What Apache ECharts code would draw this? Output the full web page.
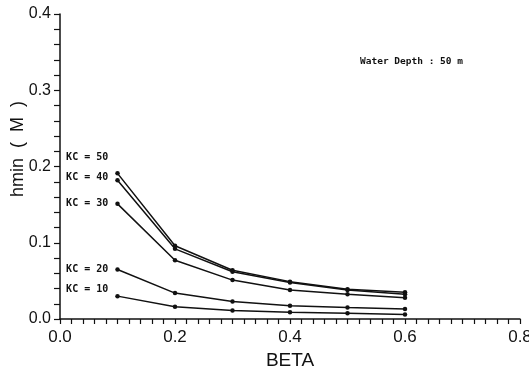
<!DOCTYPE html>
<html>
<head>
<meta charset="utf-8">
<script src="https://cdn.jsdelivr.net/npm/echarts@6/dist/echarts.min.js"></script>
<style>
  html, body { margin: 0; padding: 0; background: #fff; }
  #chart { width: 529px; height: 367px; }
</style>
</head>
<body>
<div id="chart"></div>
<script>
// BETA values where hmin was computed
const beta = [0.1, 0.2, 0.3, 0.4, 0.5, 0.6];

// hmin (m) for each KC number, water depth 50 m
const kc50 = [0.191, 0.096, 0.064, 0.049, 0.039, 0.035];
const kc40 = [0.182, 0.092, 0.062, 0.048, 0.038, 0.0325];
const kc30 = [0.151, 0.077, 0.051, 0.038, 0.0325, 0.028];
const kc20 = [0.065, 0.034, 0.023, 0.0175, 0.015, 0.013];
const kc10 = [0.030, 0.016, 0.011, 0.009, 0.0075, 0.006];

const kcNames = ['KC = 50', 'KC = 40', 'KC = 30', 'KC = 20', 'KC = 10'];
const kcValues = [kc50, kc40, kc30, kc20, kc10];

// vertical nudge of each curve's tag so the tags do not overlap
const tagOffsets = [-16, -3, 0, 0, -7];

const ink = '#111';
const mono = '"DejaVu Sans Mono", monospace';
const sans = '"Liberation Sans", Arial, sans-serif';

const series = kcValues.map((vals, i) => ({
  type: 'line',
  name: kcNames[i],
  data: vals.map((v, j) => {
    const item = { value: [beta[j], v] };
    if (j === 0) {
      item.label = {
        show: true,
        position: 'left',
        distance: 7,
        offset: [0, tagOffsets[i]],
        formatter: kcNames[i],
        color: ink,
        fontFamily: mono,
        fontWeight: 'bold',
        fontSize: 10
      };
    }
    return item;
  }),
  symbol: 'circle',
  symbolSize: 4.5,
  itemStyle: { color: ink },
  lineStyle: { color: ink, width: 1.5 },
  label: { show: false },
  animation: false,
  z: 3
}));

const chart = echarts.init(document.getElementById('chart'), null, { renderer: 'canvas' });
chart.setOption({
  backgroundColor: '#fff',
  animation: false,
  grid: {
    left: 60, right: 9, top: 14, bottom: 48,
    containLabel: false,
    outerBoundsMode: 'none'
  },
  xAxis: {
    type: 'value',
    min: 0, max: 0.8, interval: 0.2,
    name: 'BETA',
    nameLocation: 'middle',
    nameGap: 30,
    nameTextStyle: { color: ink, fontFamily: sans, fontSize: 19 },
    axisLine: { show: true, onZero: false, lineStyle: { color: ink, width: 1.5 } },
    axisTick: { show: true, inside: false, length: 5, lineStyle: { color: ink, width: 1.2 } },
    minorTick: { show: true, splitNumber: 10, length: 5, lineStyle: { color: ink, width: 1.2 } },
    splitLine: { show: false },
    axisLabel: {
      color: ink, fontFamily: sans, fontSize: 17, margin: 10,
      hideOverlap: false,
      formatter: v => v.toFixed(1)
    }
  },
  yAxis: {
    type: 'value',
    min: 0, max: 0.4, interval: 0.1,
    axisLine: { show: true, onZero: false, lineStyle: { color: ink, width: 1.5 } },
    axisTick: { show: true, inside: false, length: 6, lineStyle: { color: ink, width: 1.2 } },
    minorTick: { show: true, splitNumber: 5, length: 6, lineStyle: { color: ink, width: 1.2 } },
    splitLine: { show: false },
    axisLabel: {
      color: ink, fontFamily: sans, fontSize: 16, margin: 9,
      formatter: v => v.toFixed(1)
    }
  },
  graphic: [
    {
      type: 'text',
      x: 18, y: 149,
      rotation: Math.PI / 2,
      style: {
        text: 'hmin  (  M  )',
        fill: ink,
        font: '18px ' + sans,
        align: 'center',
        verticalAlign: 'middle'
      }
    },
    {
      type: 'text',
      x: 360, y: 62,
      style: {
        text: 'Water Depth : 50 m',
        fill: ink,
        font: 'bold 9.5px ' + mono,
        align: 'left',
        verticalAlign: 'middle'
      }
    }
  ],
  series: series
});
</script>
</body>
</html>
